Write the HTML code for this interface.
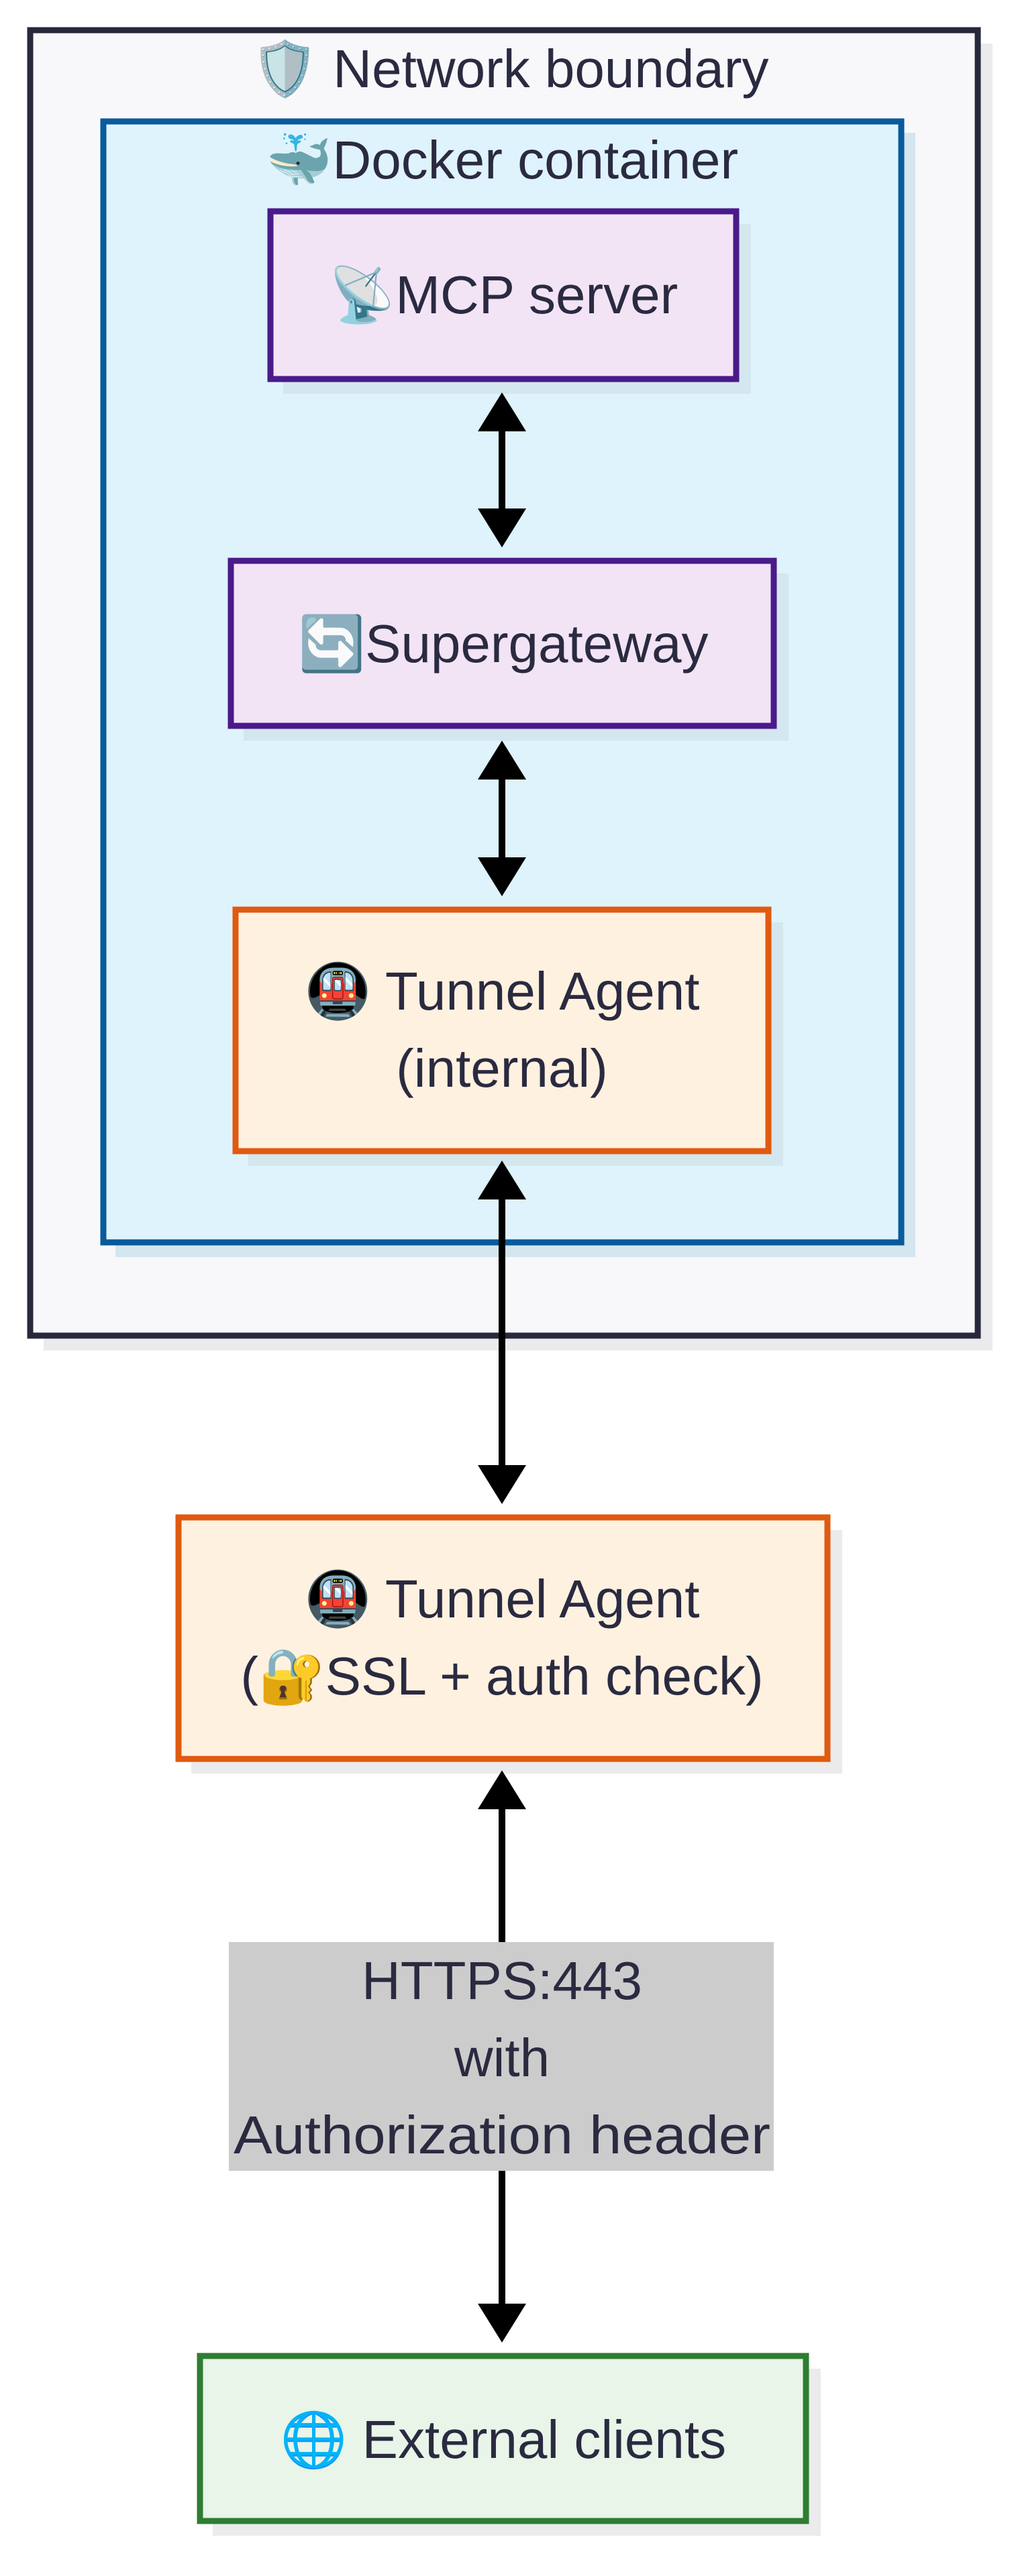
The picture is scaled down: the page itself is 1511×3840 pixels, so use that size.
<!DOCTYPE html>
<html><head><meta charset="utf-8"><style>
html,body{margin:0;padding:0;background:#fff;}
svg{display:block;}
text{font-family:"Liberation Sans","Noto Sans CJK JP",sans-serif;font-size:80px;fill:#2a2a40;text-anchor:middle;}
</style></head><body>
<svg width="1511" height="3840" viewBox="0 0 1511 3840" xmlns="http://www.w3.org/2000/svg">
<!-- outer -->
<rect x="65" y="65" width="1414" height="1948" fill="#ebebed"/>
<rect x="45" y="45" width="1412" height="1946" fill="#f8f8fb" stroke="#28283d" stroke-width="9"/>
<text x="760" y="130" fill="#000">🛡️ Network boundary</text>
<!-- docker -->
<rect x="172" y="198" width="1192" height="1676" fill="#d4e6ee"/>
<rect x="154" y="181" width="1189" height="1671" fill="#dff3fc" stroke="#0a5a9c" stroke-width="9"/>
<text x="748" y="266" fill="#000">🐳Docker container</text>
<!-- MCP -->
<rect x="422" y="334" width="697" height="253" fill="#d4e6ee"/>
<rect x="403" y="315" width="694" height="250" fill="#f2e4f5" stroke="#4a1a8a" stroke-width="9"/>
<text x="750" y="467">📡MCP server</text>
<!-- Supergateway -->
<rect x="363" y="855" width="812" height="249" fill="#d4e6ee"/>
<rect x="344" y="836" width="809" height="246" fill="#f2e4f5" stroke="#4a1a8a" stroke-width="9"/>
<text x="750" y="987">🔄Supergateway</text>
<!-- Tunnel internal -->
<rect x="370" y="1375" width="797" height="363" fill="#d4e6ee"/>
<rect x="351" y="1356" width="794" height="360" fill="#fff1e0" stroke="#e05a10" stroke-width="9"/>
<text x="748" y="1505">🚇 Tunnel Agent</text>
<text x="748" y="1620">(internal)</text>
<!-- Tunnel 2 -->
<rect x="285" y="2281" width="970" height="363" fill="#ebebed"/>
<rect x="266" y="2262" width="967" height="360" fill="#fff1e0" stroke="#e05a10" stroke-width="9"/>
<text x="748" y="2411">🚇 Tunnel Agent</text>
<text x="748" y="2526">(🔐SSL + auth check)</text>
<!-- External -->
<rect x="317" y="3531" width="906" height="249" fill="#ebebed"/>
<rect x="298" y="3512" width="903" height="246" fill="#e8f5e8" stroke="#2e7d32" stroke-width="9"/>
<text x="750" y="3664">🌐 External clients</text>
<!-- arrows -->
<g stroke="#000" stroke-width="10">
<line x1="748" y1="640" x2="748" y2="760"/>
<line x1="748" y1="1160" x2="748" y2="1280"/>
<line x1="748" y1="1785" x2="748" y2="2190"/>
<line x1="748" y1="2695" x2="748" y2="2895"/>
<line x1="748" y1="3236" x2="748" y2="3440"/>
</g>
<g fill="#000">
<polygon points="748,585 712,643 784,643"/>
<polygon points="748,816 712,758 784,758"/>
<polygon points="748,1104 712,1162 784,1162"/>
<polygon points="748,1336 712,1278 784,1278"/>
<polygon points="748,1730 712,1788 784,1788"/>
<polygon points="748,2242 712,2184 784,2184"/>
<polygon points="748,2639 712,2697 784,2697"/>
<polygon points="748,3492 712,3434 784,3434"/>
</g>
<!-- label -->
<rect x="341" y="2895" width="812" height="341" fill="#cccccc"/>
<text x="748" y="2980">HTTPS:443</text>
<text x="748" y="3095">with</text>
<text x="748" y="3210" textLength="800" lengthAdjust="spacingAndGlyphs">Authorization header</text>
</svg>
</body></html>
